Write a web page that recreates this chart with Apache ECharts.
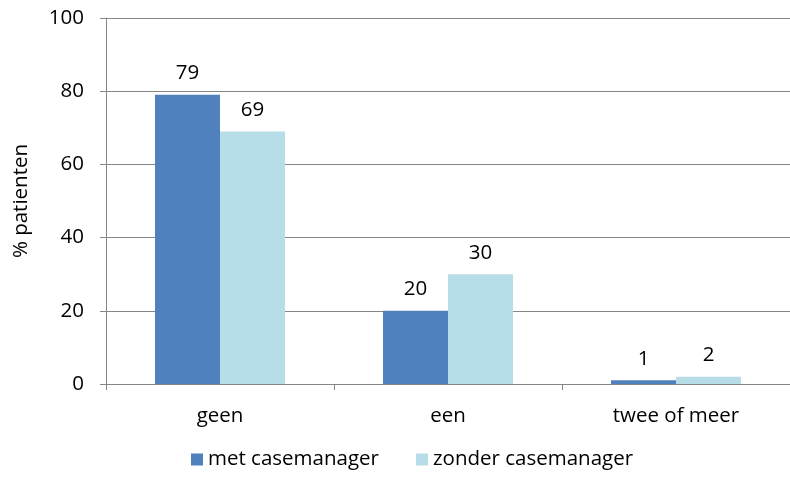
<!DOCTYPE html>
<html><head><meta charset="utf-8">
<script src="https://cdn.jsdelivr.net/npm/echarts@6/dist/echarts.min.js"></script>
<style>html,body{margin:0;padding:0;background:#fff;overflow:hidden}#c{width:790px;height:485px}</style>
</head><body><div id="c"></div>
<script>
const categories = ['geen', 'een', 'twee of meer'];
const metValues = [79, 20, 1];
const zonderValues = [69, 30, 2];
const yTicks = [0, 20, 40, 60, 80, 100];
const seriesNames = ['met casemanager', 'zonder casemanager'];

const FONT = 'Open Sans';
const FS = 20.5;
const chart = echarts.init(document.getElementById('c'));
const lbl = {show: true, position: 'top', distance: 11, color: '#000', fontSize: FS, fontFamily: FONT};
chart.setOption({
  animation: false,
  grid: {left: 106, right: -7, top: 18, bottom: 101},
  legend: {
    top: 444, left: 186, itemWidth: 12, itemHeight: 12, itemGap: 37,
    icon: 'rect',
    textStyle: {fontSize: FS, fontFamily: FONT, color: '#000'},
    data: seriesNames
  },
  xAxis: {
    type: 'category', data: categories,
    axisLine: {lineStyle: {color: '#868686', width: 1}},
    axisTick: {show: true, length: 6, lineStyle: {color: '#868686'}},
    axisLabel: {fontSize: FS, fontFamily: FONT, color: '#000', margin: 22}
  },
  yAxis: {
    type: 'value', min: yTicks[0], max: yTicks[yTicks.length - 1], interval: 20,
    name: '% patienten', nameLocation: 'middle', nameGap: 74, nameRotate: 90,
    nameTextStyle: {fontSize: FS, fontFamily: FONT, color: '#000'},
    axisLine: {show: true, lineStyle: {color: '#868686'}},
    axisTick: {show: true, length: 6, lineStyle: {color: '#868686'}},
    splitLine: {lineStyle: {color: '#868686'}},
    axisLabel: {fontSize: FS, fontFamily: FONT, color: '#000', margin: 22}
  },
  series: [
    {name: seriesNames[0], type: 'bar', data: metValues, barGap: '0%', barCategoryGap: '43%',
     itemStyle: {color: '#4F81BD'}, label: lbl},
    {name: seriesNames[1], type: 'bar', data: zonderValues,
     itemStyle: {color: '#B7DEE8'}, label: lbl}
  ]
});
</script></body></html>
